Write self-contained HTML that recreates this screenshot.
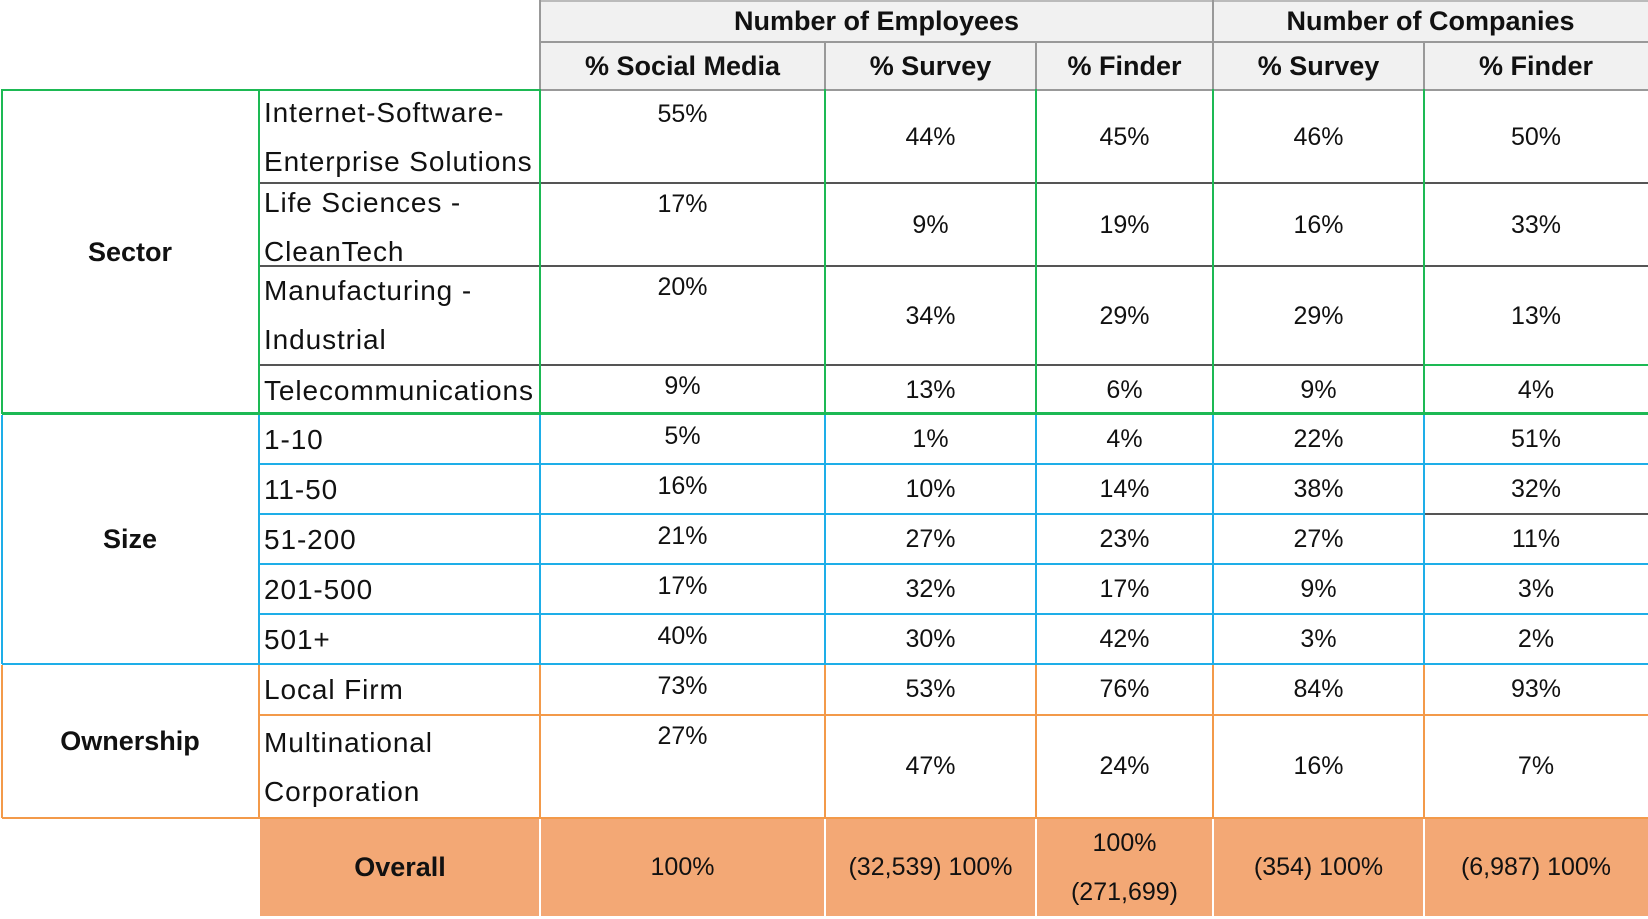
<!DOCTYPE html>
<html><head><meta charset="utf-8"><style>
body{margin:0;width:1648px;height:919px;background:#fff;position:relative;overflow:hidden;font-family:"Liberation Sans",sans-serif;color:#111}
.c{position:absolute;display:flex;align-items:center;justify-content:center;font-size:25px;box-sizing:border-box}
.t{align-items:flex-start;padding-top:6px}
.l{justify-content:flex-start;padding-left:4px;line-height:49px;font-size:28px;letter-spacing:0.9px;white-space:nowrap}
.b{font-weight:bold;font-size:27px}
.h{position:absolute;height:2px}
.v{position:absolute;width:2px}
</style></head><body>
<div style="position:absolute;left:540px;top:1px;width:1108px;height:89px;background:#f1f1f1"></div>
<div class="h" style="left:540px;top:0;width:1108px;background:#bbb"></div>
<div class="h" style="left:540px;top:41px;width:1108px;background:#999"></div>
<div class="h" style="left:540px;top:89px;width:1108px;background:#999"></div>
<div class="v" style="left:539px;top:0;height:90px;background:#999"></div>
<div class="v" style="left:1212px;top:0;height:90px;background:#999"></div>
<div class="v" style="left:824px;top:42px;height:48px;background:#999"></div>
<div class="v" style="left:1035px;top:42px;height:48px;background:#999"></div>
<div class="v" style="left:1423px;top:42px;height:48px;background:#999"></div>
<div class="c b" style="left:540px;top:0;width:673px;height:42px">Number of Employees</div>
<div class="c b" style="left:1213px;top:0;width:435px;height:42px">Number of Companies</div>
<div class="c b" style="left:540px;top:42px;width:285px;height:48px">% Social Media</div>
<div class="c b" style="left:825px;top:42px;width:211px;height:48px">% Survey</div>
<div class="c b" style="left:1036px;top:42px;width:177px;height:48px">% Finder</div>
<div class="c b" style="left:1213px;top:42px;width:211px;height:48px">% Survey</div>
<div class="c b" style="left:1424px;top:42px;width:224px;height:48px">% Finder</div>

<div class="h" style="left:2px;top:89px;width:538px;background:#1db954"></div>
<div class="h" style="left:259px;top:182px;width:1389px;background:#555"></div>
<div class="h" style="left:259px;top:265px;width:1389px;background:#555"></div>
<div class="h" style="left:259px;top:364px;width:1165px;background:#555"></div>
<div class="h" style="left:1424px;top:364px;width:224px;background:#1db954"></div>
<div class="h" style="left:2px;top:412px;width:1646px;background:#1db954;height:3px"></div>
<div class="v" style="left:1px;top:89px;height:325px;background:#1db954"></div>
<div class="v" style="left:258px;top:89px;height:325px;background:#1db954"></div>
<div class="v" style="left:539px;top:89px;height:325px;background:#1db954"></div>
<div class="v" style="left:824px;top:89px;height:325px;background:#1db954"></div>
<div class="v" style="left:1035px;top:89px;height:325px;background:#1db954"></div>
<div class="v" style="left:1212px;top:89px;height:325px;background:#1db954"></div>
<div class="v" style="left:1423px;top:89px;height:325px;background:#1db954"></div>

<div class="h" style="left:259px;top:463px;width:1389px;background:#1eaee8"></div>
<div class="h" style="left:259px;top:513px;width:1165px;background:#1eaee8"></div>
<div class="h" style="left:1424px;top:513px;width:224px;background:#555"></div>
<div class="h" style="left:259px;top:563px;width:1389px;background:#1eaee8"></div>
<div class="h" style="left:259px;top:613px;width:1389px;background:#1eaee8"></div>
<div class="h" style="left:2px;top:663px;width:1646px;background:#1eaee8"></div>
<div class="v" style="left:1px;top:415px;height:249px;background:#1eaee8"></div>
<div class="v" style="left:258px;top:415px;height:249px;background:#1eaee8"></div>
<div class="v" style="left:539px;top:415px;height:249px;background:#1eaee8"></div>
<div class="v" style="left:824px;top:415px;height:249px;background:#1eaee8"></div>
<div class="v" style="left:1035px;top:415px;height:249px;background:#1eaee8"></div>
<div class="v" style="left:1212px;top:415px;height:249px;background:#1eaee8"></div>
<div class="v" style="left:1423px;top:415px;height:249px;background:#1eaee8"></div>

<div class="h" style="left:259px;top:714px;width:1389px;background:#f39a4a"></div>
<div class="h" style="left:2px;top:817px;width:1646px;background:#f39a4a"></div>
<div class="v" style="left:1px;top:665px;height:153px;background:#f39a4a"></div>
<div class="v" style="left:258px;top:665px;height:153px;background:#f39a4a"></div>
<div class="v" style="left:539px;top:665px;height:153px;background:#f39a4a"></div>
<div class="v" style="left:824px;top:665px;height:153px;background:#f39a4a"></div>
<div class="v" style="left:1035px;top:665px;height:153px;background:#f39a4a"></div>
<div class="v" style="left:1212px;top:665px;height:153px;background:#f39a4a"></div>
<div class="v" style="left:1423px;top:665px;height:153px;background:#f39a4a"></div>

<div style="position:absolute;left:260px;top:819px;width:1388px;height:97px;background:#f3a875"></div>
<div class="v" style="left:539px;top:819px;height:97px;background:#fff"></div>
<div class="v" style="left:824px;top:819px;height:97px;background:#fff"></div>
<div class="v" style="left:1035px;top:819px;height:97px;background:#fff"></div>
<div class="v" style="left:1212px;top:819px;height:97px;background:#fff"></div>
<div class="v" style="left:1423px;top:819px;height:97px;background:#fff"></div>

<div class="c b" style="left:2px;top:90px;width:256px;height:324px">Sector</div>
<div class="c b" style="left:2px;top:415px;width:256px;height:249px">Size</div>
<div class="c b" style="left:2px;top:665px;width:256px;height:152px">Ownership</div>
<div class="c b" style="left:260px;top:819px;width:280px;height:97px">Overall</div>

<div class="c l" style="left:260px;top:88px;width:280px;height:98px;align-items:flex-start">Internet-Software-<br>Enterprise Solutions</div>
<div class="c l" style="left:260px;top:178px;width:280px;height:98px;align-items:flex-start">Life Sciences -<br>CleanTech</div>
<div class="c l" style="left:260px;top:266px;width:280px;height:98px;align-items:flex-start">Manufacturing -<br>Industrial</div>
<div class="c l" style="left:260px;top:366px;width:280px;height:48px">Telecommunications</div>
<div class="c l" style="left:260px;top:415px;width:280px;height:49px">1-10</div>
<div class="c l" style="left:260px;top:465px;width:280px;height:49px">11-50</div>
<div class="c l" style="left:260px;top:515px;width:280px;height:49px">51-200</div>
<div class="c l" style="left:260px;top:565px;width:280px;height:49px">201-500</div>
<div class="c l" style="left:260px;top:615px;width:280px;height:49px">501+</div>
<div class="c l" style="left:260px;top:665px;width:280px;height:49px">Local Firm</div>
<div class="c l" style="left:260px;top:716px;width:280px;height:101px">Multinational<br>Corporation</div>

<div class="c t" style="left:540px;top:94px;width:285px;height:40px">55%</div>
<div class="c t" style="left:540px;top:184px;width:285px;height:40px">17%</div>
<div class="c t" style="left:540px;top:267px;width:285px;height:40px">20%</div>
<div class="c t" style="left:540px;top:366px;width:285px;height:40px">9%</div>
<div class="c t" style="left:540px;top:416px;width:285px;height:40px">5%</div>
<div class="c t" style="left:540px;top:466px;width:285px;height:40px">16%</div>
<div class="c t" style="left:540px;top:516px;width:285px;height:40px">21%</div>
<div class="c t" style="left:540px;top:566px;width:285px;height:40px">17%</div>
<div class="c t" style="left:540px;top:616px;width:285px;height:40px">40%</div>
<div class="c t" style="left:540px;top:666px;width:285px;height:40px">73%</div>
<div class="c t" style="left:540px;top:716px;width:285px;height:40px">27%</div>
<div class="c" style="left:540px;top:819px;width:285px;height:97px">100%</div>

<div class="c" style="left:825px;top:91px;width:211px;height:92px">44%</div>
<div class="c" style="left:825px;top:184px;width:211px;height:82px">9%</div>
<div class="c" style="left:825px;top:267px;width:211px;height:98px">34%</div>
<div class="c" style="left:825px;top:366px;width:211px;height:48px">13%</div>
<div class="c" style="left:825px;top:415px;width:211px;height:49px">1%</div>
<div class="c" style="left:825px;top:465px;width:211px;height:49px">10%</div>
<div class="c" style="left:825px;top:515px;width:211px;height:49px">27%</div>
<div class="c" style="left:825px;top:565px;width:211px;height:49px">32%</div>
<div class="c" style="left:825px;top:615px;width:211px;height:49px">30%</div>
<div class="c" style="left:825px;top:665px;width:211px;height:49px">53%</div>
<div class="c" style="left:825px;top:716px;width:211px;height:101px">47%</div>
<div class="c" style="left:825px;top:819px;width:211px;height:97px">(32,539) 100%</div>

<div class="c" style="left:1036px;top:91px;width:177px;height:92px">45%</div>
<div class="c" style="left:1036px;top:184px;width:177px;height:82px">19%</div>
<div class="c" style="left:1036px;top:267px;width:177px;height:98px">29%</div>
<div class="c" style="left:1036px;top:366px;width:177px;height:48px">6%</div>
<div class="c" style="left:1036px;top:415px;width:177px;height:49px">4%</div>
<div class="c" style="left:1036px;top:465px;width:177px;height:49px">14%</div>
<div class="c" style="left:1036px;top:515px;width:177px;height:49px">23%</div>
<div class="c" style="left:1036px;top:565px;width:177px;height:49px">17%</div>
<div class="c" style="left:1036px;top:615px;width:177px;height:49px">42%</div>
<div class="c" style="left:1036px;top:665px;width:177px;height:49px">76%</div>
<div class="c" style="left:1036px;top:716px;width:177px;height:101px">24%</div>
<div class="c" style="left:1036px;top:819px;width:177px;height:97px;line-height:49px;text-align:center">100%<br>(271,699)</div>

<div class="c" style="left:1213px;top:91px;width:211px;height:92px">46%</div>
<div class="c" style="left:1213px;top:184px;width:211px;height:82px">16%</div>
<div class="c" style="left:1213px;top:267px;width:211px;height:98px">29%</div>
<div class="c" style="left:1213px;top:366px;width:211px;height:48px">9%</div>
<div class="c" style="left:1213px;top:415px;width:211px;height:49px">22%</div>
<div class="c" style="left:1213px;top:465px;width:211px;height:49px">38%</div>
<div class="c" style="left:1213px;top:515px;width:211px;height:49px">27%</div>
<div class="c" style="left:1213px;top:565px;width:211px;height:49px">9%</div>
<div class="c" style="left:1213px;top:615px;width:211px;height:49px">3%</div>
<div class="c" style="left:1213px;top:665px;width:211px;height:49px">84%</div>
<div class="c" style="left:1213px;top:716px;width:211px;height:101px">16%</div>
<div class="c" style="left:1213px;top:819px;width:211px;height:97px">(354) 100%</div>

<div class="c" style="left:1424px;top:91px;width:224px;height:92px">50%</div>
<div class="c" style="left:1424px;top:184px;width:224px;height:82px">33%</div>
<div class="c" style="left:1424px;top:267px;width:224px;height:98px">13%</div>
<div class="c" style="left:1424px;top:366px;width:224px;height:48px">4%</div>
<div class="c" style="left:1424px;top:415px;width:224px;height:49px">51%</div>
<div class="c" style="left:1424px;top:465px;width:224px;height:49px">32%</div>
<div class="c" style="left:1424px;top:515px;width:224px;height:49px">11%</div>
<div class="c" style="left:1424px;top:565px;width:224px;height:49px">3%</div>
<div class="c" style="left:1424px;top:615px;width:224px;height:49px">2%</div>
<div class="c" style="left:1424px;top:665px;width:224px;height:49px">93%</div>
<div class="c" style="left:1424px;top:716px;width:224px;height:101px">7%</div>
<div class="c" style="left:1424px;top:819px;width:224px;height:97px">(6,987) 100%</div>
</body></html>
